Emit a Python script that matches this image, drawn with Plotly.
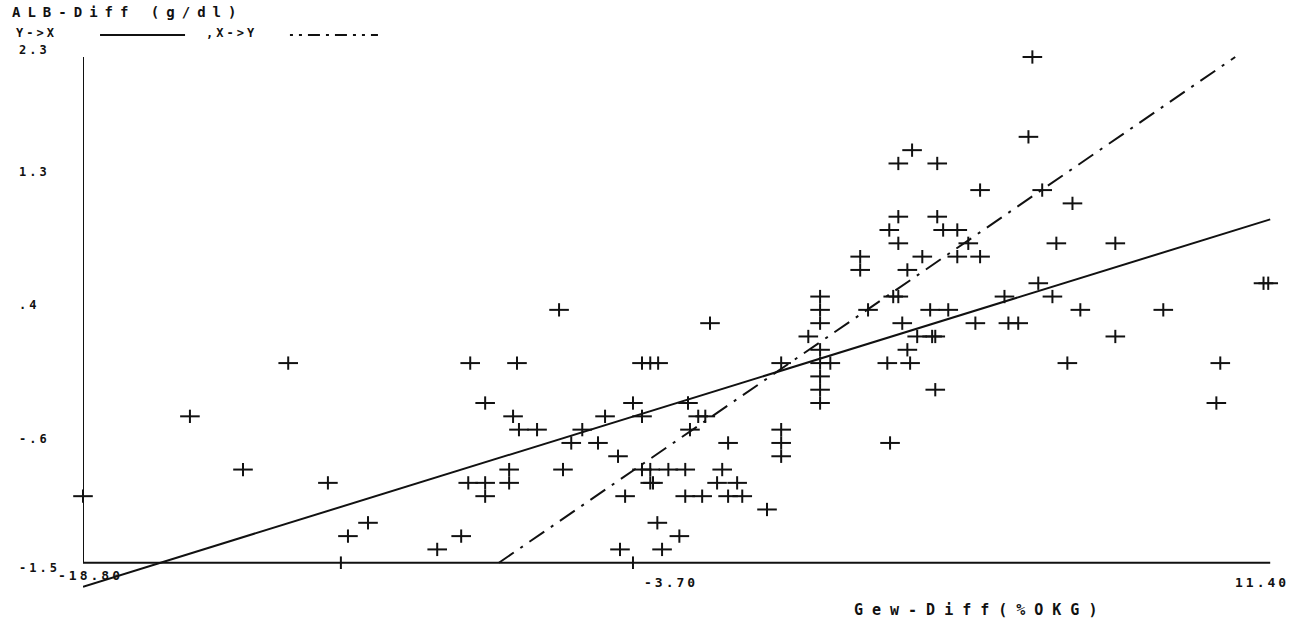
import plotly.graph_objects as go

# ---------------- data ----------------
X_TITLE = "Gew-Diff(%OKG)"
Y_TITLE = "ALB-Diff (g/dl)"
LEGEND_YX = "Y->X"
LEGEND_XY = ",X->Y"

x_tick_vals = [-18.80, -3.70, 11.40]
x_tick_text = ["-18.80", "-3.70", "11.40"]
y_tick_vals = [2.3, 1.35, 0.4, -0.55, -1.5]
y_tick_text = ["2.3", "1.3", ".4", "-.6", "-1.5"]
x_mark_vals = [-12.24, -4.81]          # unlabeled tick marks on the x axis

X_MIN, X_MAX = -18.80, 11.40
Y_MIN, Y_MAX = -1.5, 2.3

gew_diff = [
    -18.80, -16.08, -14.73, -13.58, -12.57, -12.06, -11.55, -9.79, -9.18, -8.95,
    -8.57, -9.00, -8.57, -8.57, -7.96, -7.96, -7.76, -7.86, -7.71, -7.25,
    -6.69, -6.59, -6.38, -6.10, -5.70, -5.52, -5.19, -5.14, -5.01, -4.81,
    -4.58, -4.58, -4.37, -4.17, -4.58, -4.37, -4.37, -4.30, -3.91, -3.48,
    -4.19, -3.63, -4.07, -3.48, -3.05, -3.41, -3.15, -2.97, -3.36, -2.85,
    -2.54, -2.67, -2.16, -2.39, -2.03, -2.39, -1.40, -1.04, -1.04, -1.04,
    -1.04, -0.05, -0.05, -0.05, -0.35, -0.05, -0.05, 0.21, -0.05, -0.05,
    -0.05, 1.17, 1.66, 1.73, 2.29, 1.94, 2.93, 4.02, 1.94, 2.93,
    1.71, 3.08, 3.44, 1.94, 3.72, 0.97, 2.55, 3.44, 4.02, 0.97,
    2.17, 1.81, 1.94, 4.64, 5.50, 5.86, 2.75, 3.21, 6.57, 8.68,
    2.04, 3.90, 4.74, 4.99, 2.42, 2.80, 2.88, 7.46, 2.17, 2.24,
    6.24, 10.13, 2.88, 10.03, 5.35, 5.25, 5.60, 6.37, 5.96, 7.46,
    11.23, 11.35,
]
alb_diff = [
    -1.0, -0.4, -0.8, 0.0, -0.9, -1.3, -1.2, -1.4, -1.3, 0.0,
    -0.3, -0.9, -0.9, -1.0, -0.8, -0.9, 0.0, -0.4, -0.5, -0.5,
    0.4, -0.8, -0.6, -0.5, -0.6, -0.4, -0.7, -1.4, -1.0, -0.3,
    -0.4, 0.0, 0.0, 0.0, -0.8, -0.8, -0.9, -0.9, -0.8, -0.8,
    -1.2, -1.3, -1.4, -1.0, -1.0, -0.3, -0.4, -0.4, -0.5, 0.3,
    -0.8, -0.9, -0.9, -1.0, -1.0, -0.6, -1.1, -0.5, -0.6, -0.7,
    0.0, 0.5, 0.4, 0.3, 0.2, 0.1, 0.0, 0.0, -0.1, -0.2,
    -0.3, 0.4, 0.0, -0.6, 1.6, 1.5, 1.5, 1.3, 1.1, 1.1,
    1.0, 1.0, 1.0, 0.9, 0.9, 0.8, 0.8, 0.8, 0.8, 0.7,
    0.7, 0.5, 0.5, 0.5, 0.6, 0.5, 0.4, 0.4, 0.4, 0.4,
    0.3, 0.3, 0.3, 0.3, 0.2, 0.2, 0.2, 0.2, 0.1, 0.0,
    0.0, 0.0, -0.2, -0.3, 2.3, 1.7, 1.3, 1.2, 0.9, 0.9,
    0.6, 0.6,
]

# regression lines (end points)
yx_line_x = [-18.80, 11.40]
yx_line_y = [-1.68, 1.08]
xy_line_x = [-8.22, 10.51]
xy_line_y = [-1.50, 2.30]

# ---------------- styling ----------------
INK = "#111111"
FONT = "DejaVu Sans Mono"


def spaced(text, px):
    return f'<span style="letter-spacing:{px}px"><b>{text}</b></span>'


fig = go.Figure()

# axis frame (drawn through the data scales)
fig.add_trace(go.Scatter(
    x=[X_MIN, X_MIN, X_MAX], y=[Y_MAX, Y_MIN, Y_MIN],
    mode="lines", line=dict(color=INK, width=2), hoverinfo="skip"))

# unlabeled tick marks crossing the x axis
fig.add_trace(go.Scatter(
    x=x_mark_vals, y=[Y_MIN] * len(x_mark_vals), mode="markers",
    marker=dict(symbol="line-ns", size=9, line=dict(color=INK, width=2)),
    cliponaxis=False, hoverinfo="skip"))

# Y->X regression (solid)
fig.add_trace(go.Scatter(
    x=yx_line_x, y=yx_line_y, mode="lines",
    line=dict(color=INK, width=2), hoverinfo="skip"))

# X->Y regression (dash-dot)
fig.add_trace(go.Scatter(
    x=xy_line_x, y=xy_line_y, mode="lines",
    line=dict(color=INK, width=2, dash="18px,8px,3px,8px"), hoverinfo="skip"))

# "+" markers: wide horizontal bar + shorter vertical bar
fig.add_trace(go.Scatter(
    x=gew_diff, y=alb_diff, mode="markers",
    marker=dict(symbol="line-ew", size=14, line=dict(color=INK, width=2)),
    cliponaxis=False))
fig.add_trace(go.Scatter(
    x=gew_diff, y=alb_diff, mode="markers",
    marker=dict(symbol="line-ns", size=9.5, line=dict(color=INK, width=2)),
    cliponaxis=False))

annotations = []
# y-axis title and legend line (top left)
annotations.append(dict(
    xref="paper", yref="paper", x=0, y=1, xshift=-73, yshift=37,
    xanchor="left", yanchor="middle", showarrow=False,
    text=spaced(Y_TITLE, 7), font=dict(family=FONT, size=14, color=INK)))
annotations.append(dict(
    xref="paper", yref="paper", x=0, y=1, xshift=-68, yshift=16,
    xanchor="left", yanchor="middle", showarrow=False, borderpad=0,
    text=spaced(LEGEND_YX, 3), font=dict(family=FONT, size=12, color=INK)))
annotations.append(dict(
    xref="paper", yref="paper", x=0, y=1, xshift=122, yshift=16,
    xanchor="left", yanchor="middle", showarrow=False, borderpad=0,
    text=spaced(LEGEND_XY, 3), font=dict(family=FONT, size=12, color=INK)))

# x-axis title
annotations.append(dict(
    xref="paper", yref="paper", x=0, y=0, xshift=897, yshift=-14,
    xanchor="center", yanchor="middle", showarrow=False,
    text=spaced(X_TITLE, 9), font=dict(family=FONT, size=15, color=INK)))

# x tick labels
x_label_shift = [(7, -13), (-6, -20), (-8, -20)]
for v, t, (dx, dy) in zip(x_tick_vals, x_tick_text, x_label_shift):
    annotations.append(dict(
        xref="x", yref="y", x=v, y=Y_MIN, xshift=dx, yshift=dy,
        xanchor="center", yanchor="middle", showarrow=False,
        text=spaced(t, 3), font=dict(family=FONT, size=13, color=INK)))

# y tick labels (left aligned, as in the print)
y_label_shift = [7, 11, 5, -3, -5]
for v, t, dy in zip(y_tick_vals, y_tick_text, y_label_shift):
    annotations.append(dict(
        xref="x", yref="y", x=X_MIN, y=v, xshift=-65, yshift=dy,
        xanchor="left", yanchor="middle", showarrow=False, borderpad=0,
        text=spaced(t, 3), font=dict(family=FONT, size=12, color=INK)))

# legend line samples
shapes = [
    dict(type="line", xref="paper", yref="paper", x0=0.0142, x1=0.0851,
         y0=1.0256, y1=1.0256, line=dict(color=INK, width=2)),
    dict(type="line", xref="paper", yref="paper", x0=0.1726, x1=0.2460,
         y0=1.0256, y1=1.0256,
         line=dict(color=INK, width=2,
                   dash="3px,6px,3px,6px,12px,6px,3px,6px,12px,6px")),
]

fig.update_layout(
    width=1310, height=622, autosize=False,
    margin=dict(l=83, r=28, t=49, b=26, pad=0),
    paper_bgcolor="white", plot_bgcolor="white",
    showlegend=False,
    xaxis=dict(range=[-18.80, 11.70], visible=False, fixedrange=True),
    yaxis=dict(range=[-1.75, 2.36], visible=False, fixedrange=True),
    annotations=annotations, shapes=shapes,
    hovermode=False,
)

# remove the browser's default 8 px body margin so the figure fills the window
fig.write_html("out.html",
               config={"displayModeBar": False, "staticPlot": True},
               post_script="document.body.style.margin='0px';"
                           "document.body.style.overflow='hidden';")
